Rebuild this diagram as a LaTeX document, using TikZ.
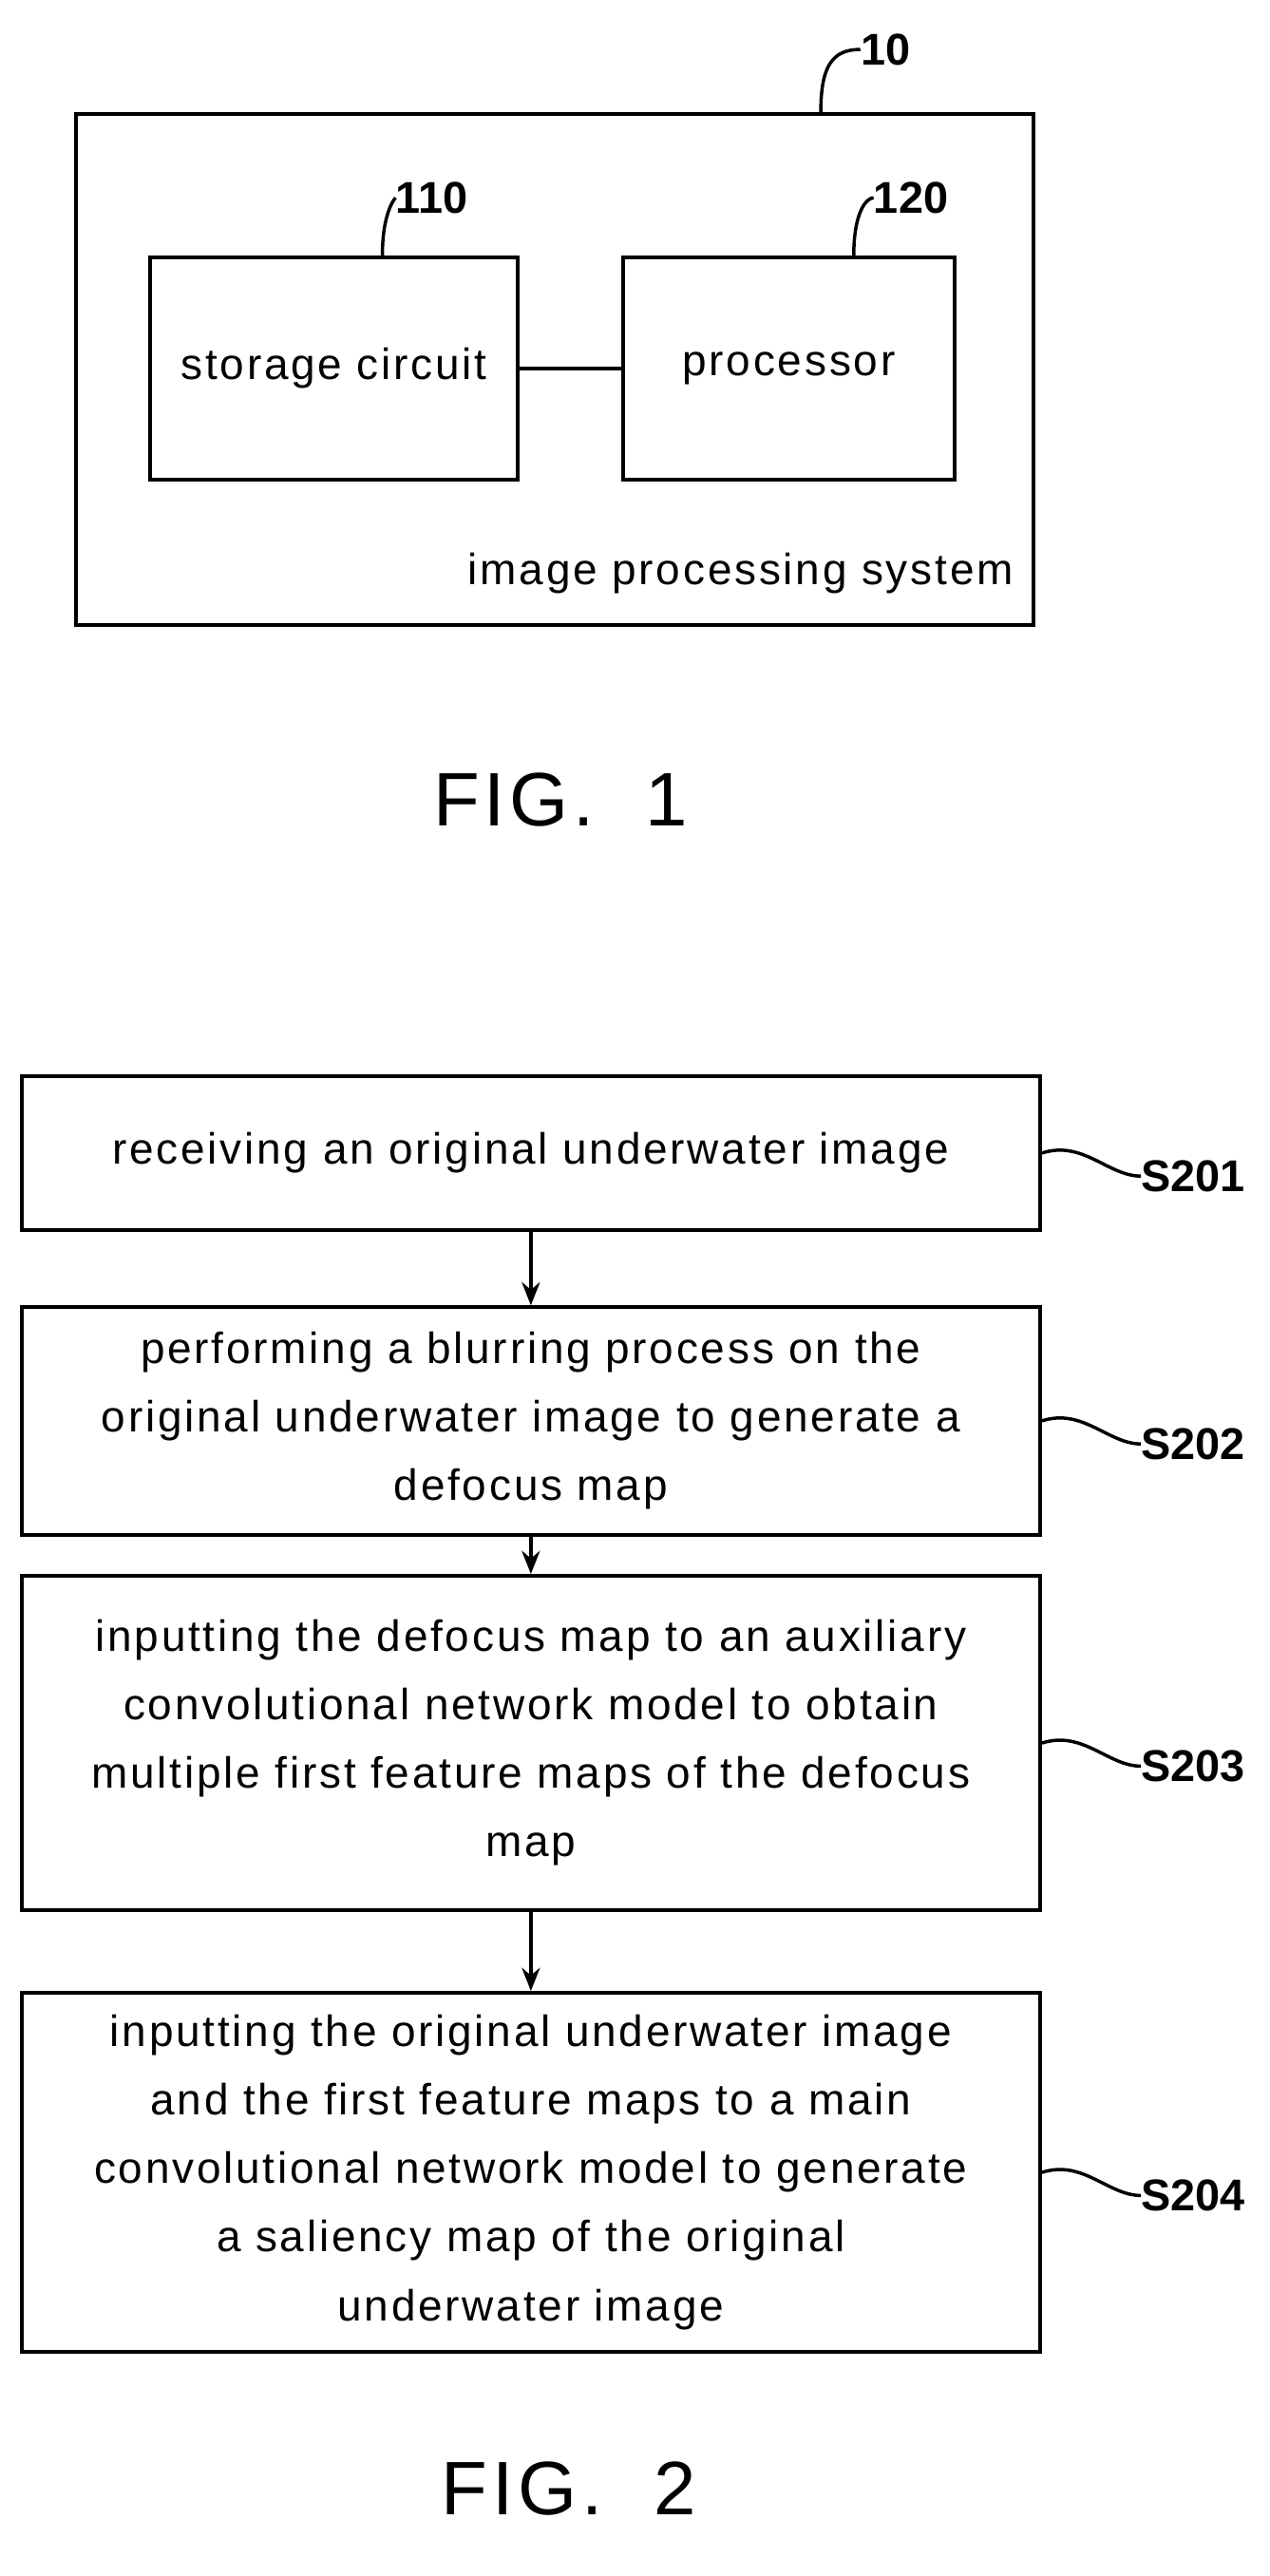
\documentclass[tikz,border=0pt]{standalone}
\usepackage{fontspec}
\setmainfont{Liberation Sans}
\usetikzlibrary{arrows.meta}
\begin{document}
\begin{tikzpicture}[x=1pt,y=-1pt,
 box/.style={draw,line width=2.2pt},
 txt/.style={font=\fontsize{26.5}{41.5}\selectfont\addfontfeature{LetterSpace=6},align=center,inner sep=0},
 lbl/.style={font=\fontsize{27}{30}\selectfont\bfseries,inner sep=0,anchor=west},
 ln/.style={line width=2pt},
 arr/.style={line width=2pt,-{Stealth[length=14pt,width=11pt]}}]
\useasboundingbox (0,0) rectangle (770,1563);
% FIG 1
\node[box,minimum width=581pt,minimum height=310pt,anchor=north west] (sys) at (45,68) {};
\node[box,minimum width=223pt,minimum height=135pt,anchor=north west] (sc) at (90,155) {};
\node[box,minimum width=201pt,minimum height=135pt,anchor=north west] (pr) at (377,155) {};
\node[txt] at (sc.center) {storage circuit};
\node[txt] at (pr.center) {processor};
\draw[ln] (sc.east) -- (pr.west);
\node[txt,anchor=east] (ips) at (615,348) {image processing system};
\node[lbl] (l10) at (522,30) {10};
\node[lbl] (l110) at (240,120) {110};
\node[lbl] (l120) at (530,120) {120};
\draw[ln] (498,68) .. controls (498,40) and (505,30) .. (l10.west);
\draw[ln] (232,155) .. controls (232,128) and (240,120) .. (l110.west);
\draw[ln] (518,155) .. controls (518,128) and (526,120) .. (l120.west);
\node[font=\fontsize{46}{50}\selectfont\addfontfeature{LetterSpace=6}] (f1) at (340,485) {FIG.~~1};
% FIG 2
\node[box,minimum width=618pt,minimum height=93pt,anchor=north west] (b1) at (12,652) {};
\node[box,minimum width=618pt,minimum height=138pt,anchor=north west] (b2) at (12,792) {};
\node[box,minimum width=618pt,minimum height=203pt,anchor=north west] (b3) at (12,955) {};
\node[box,minimum width=618pt,minimum height=218pt,anchor=north west] (b4) at (12,1208) {};
\node[txt] at (b1.center) {receiving an original underwater image};
\node[txt] at (b2.center) {performing a blurring process on the\\original underwater image to generate a\\defocus map};
\node[txt] at (b3.center) {inputting the defocus map to an auxiliary\\convolutional network model to obtain\\multiple first feature maps of the defocus\\map};
\node[txt] at (b4.center) {inputting the original underwater image\\and the first feature maps to a main\\convolutional network model to generate\\a saliency map of the original\\underwater image};
\draw[arr] (b1.south) -- (b2.north);
\draw[arr] (b2.south) -- (b3.north);
\draw[arr] (b3.south) -- (b4.north);
\foreach \b/\s in {b1/S201,b2/S202,b3/S203,b4/S204}{
 \node[lbl] (L\s) at ([xshift=60pt,yshift=-14pt]\b.east) {\s};
 \draw[ln] (\b.east) .. controls +(25,-8) and +(-20,0) .. (L\s.west);
}
\node[font=\fontsize{46}{50}\selectfont\addfontfeature{LetterSpace=6}] (f2) at (345,1510) {FIG.~~2};
\end{tikzpicture}
\end{document}
